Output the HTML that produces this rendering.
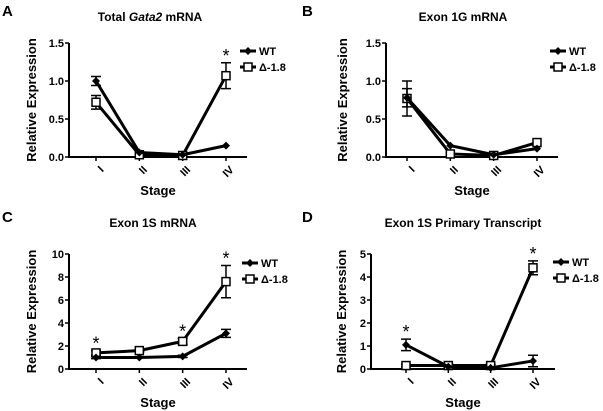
<!DOCTYPE html>
<html><head><meta charset="utf-8"><style>
body{margin:0;background:#fff;}
svg{display:block;font-family:"Liberation Sans",Arial,sans-serif;font-weight:bold;}
text{fill:#000;}
</style></head><body>
<svg id="c" width="603" height="411" viewBox="0 0 603 411"></svg>
<script>
const stages = ["I","II","III","IV"];
const wtA = [1.0,0.06,0.03,0.15], wtAe=[0.06,0,0,0];
const dlA = [0.72,0.03,0.02,1.07], dlAe=[0.09,0,0,0.17];
const wtB = [0.78,0.15,0.03,0.11], wtBe=[0.12,0,0,0];
const dlB = [0.77,0.04,0.02,0.19], dlBe=[0.23,0,0,0];
const wtC = [1.0,1.0,1.1,3.1], wtCe=[0.1,0,0.1,0.35];
const dlC = [1.4,1.6,2.4,7.6], dlCe=[0.2,0.1,0.25,1.4];
const wtD = [1.05,0.1,0.05,0.35], wtDe=[0.25,0,0,0.25];
const dlD = [0.15,0.15,0.15,4.4], dlDe=[0.05,0.05,0.05,0.3];
const yTicksAB = ["0.0","0.5","1.0","1.5"], yValsAB=[0,0.5,1,1.5];
const yTicksC = ["0","2","4","6","8","10"], yValsC=[0,2,4,6,8,10];
const yTicksD = ["0","1","2","3","4","5"], yValsD=[0,1,2,3,4,5];
const starsA=[3], starsB=[], starsC=[0,2,3], starsD=[0,3];

const NS="http://www.w3.org/2000/svg";
const svg=document.getElementById('c');
function mk(tag,attrs,parent,txt){const e=document.createElementNS(NS,tag);for(const k in attrs)e.setAttribute(k,attrs[k]);if(txt!==undefined)e.textContent=txt;(parent||svg).appendChild(e);return e;}

function panel(o){
  const g=mk('g',{});
  
  
  const ymax=o.yVals[o.yVals.length-1];
  const ys=v=>o.y0+(o.y1-o.y0)*v/ymax;
  const xs=i=>o.xs[0]+(o.xs[1]-o.xs[0])*i/3;
  const L=mk('text',{x:o.lx,y:o.ly,'font-size':15,'font-weight':'bold'},g,o.letter);
  
  const T=mk('text',{x:o.tx,y:o.ty,'font-size':12,'text-anchor':'middle'},g);
  
  o.title.forEach(p=>{mk('tspan',{'font-style':p[1]?'italic':'normal'},T,p[0]);});
  const ax=mk('path',{d:`M${o.ax} ${ys(ymax)}V${o.y0}H${o.axEnd}`,stroke:'#000','stroke-width':2,fill:'none'},g);
  
  o.yVals.forEach((v,i)=>{
    mk('line',{x1:o.ax-4,x2:o.ax,y1:ys(v),y2:ys(v),stroke:'#000','stroke-width':1.5},g);
    const t=mk('text',{x:o.ax-5,y:ys(v)+4,'font-size':11,'text-anchor':'end'},g,o.yTicks[i]);
    
  });
  stages.forEach((s,i)=>{
    mk('line',{x1:xs(i),x2:xs(i),y1:o.y0,y2:o.y0+4,stroke:'#000','stroke-width':1.5},g);
    const t=mk('text',{x:xs(i)+3,y:o.y0+8,'font-size':11,'text-anchor':'end',transform:`rotate(-45 ${xs(i)+3} ${o.y0+8})`,dy:'0.7em'},g,s);
    
  });
  const xt=mk('text',{x:(o.ax+o.axEnd)/2,y:o.y0+38,'font-size':13,'text-anchor':'middle'},g,'Stage');
  
  const yt=mk('text',{x:0,y:0,'font-size':13,'text-anchor':'middle',transform:`translate(${o.ylx},${(o.y0+ys(ymax))/2}) rotate(-90)`},g,'Relative Expression');
  
  [[o.dl,o.dle,'sq'],[o.wt,o.wte,'dia']].forEach(([vals,errs,m])=>{
    const pts=vals.map((v,i)=>xs(i)+','+ys(v)).join(' ');
    const pl=mk('polyline',{points:pts,fill:'none',stroke:'#000','stroke-width':3},g);
    
    vals.forEach((v,i)=>{
      const x=xs(i),y=ys(v);
      if(errs[i]>0){
        const e=mk('path',{d:`M${x} ${ys(v+errs[i])}V${ys(Math.max(0,v-errs[i]))}M${x-5} ${ys(v+errs[i])}h10M${x-5} ${ys(Math.max(0,v-errs[i]))}h10`,stroke:'#000','stroke-width':1.5,fill:'none'},g);
        
      }
      let p;
      if(m==='sq')p=mk('rect',{x:x-4,y:y-4,width:8,height:8,fill:'#fff',stroke:'#000','stroke-width':1.5},g);
      else p=mk('path',{d:`M${x} ${y-4}L${x+4} ${y}L${x} ${y+4}L${x-4} ${y}Z`,fill:'#000'},g);
      
    });
  });
  o.stars.forEach(i=>{
    const top=Math.max(o.wt[i]+o.wte[i],o.dl[i]+o.dle[i]);
    const s=mk('text',{x:xs(i),y:ys(top)-1,'font-size':18,'font-weight':'normal','text-anchor':'middle'},g,'*');
    
  });
  const lg=mk('g',{},g);
  mk('line',{x1:o.legx,x2:o.legx+16,y1:o.legy,y2:o.legy,stroke:'#000','stroke-width':3},lg);
  mk('path',{d:`M${o.legx+8} ${o.legy-4}l4 4l-4 4l-4 -4Z`,fill:'#000'},lg);
  mk('text',{x:o.legx+19,y:o.legy+4,'font-size':11},lg,'WT');
  mk('line',{x1:o.legx,x2:o.legx+16,y1:o.legy+16,y2:o.legy+16,stroke:'#000','stroke-width':3},lg);
  mk('rect',{x:o.legx+4,y:o.legy+12,width:8,height:8,fill:'#fff',stroke:'#000','stroke-width':1.5},lg);
  mk('text',{x:o.legx+19,y:o.legy+20,'font-size':11},lg,'Δ-1.8');
}
panel({letter:'A',lx:2,ly:16,title:[['Total '],['Gata2',1],[' mRNA']],tx:150,ty:21,ax:69,axEnd:247,y0:157,y1:43,xs:[96,226],yVals:yValsAB,yTicks:yTicksAB,ylx:36,wt:wtA,wte:wtAe,dl:dlA,dle:dlAe,stars:starsA,legx:240,legy:51});
panel({letter:'B',lx:302,ly:16,title:[['Exon 1G mRNA']],tx:463,ty:21,ax:386,axEnd:558,y0:157,y1:43,xs:[407,537],yVals:yValsAB,yTicks:yTicksAB,ylx:347,wt:wtB,wte:wtBe,dl:dlB,dle:dlBe,stars:starsB,legx:550,legy:51});
panel({letter:'C',lx:2,ly:222,title:[['Exon 1S mRNA']],tx:153,ty:227,ax:69,axEnd:247,y0:369,y1:254,xs:[96,226],yVals:yValsC,yTicks:yTicksC,ylx:36,wt:wtC,wte:wtCe,dl:dlC,dle:dlCe,stars:starsC,legx:242,legy:263});
panel({letter:'D',lx:302,ly:222,title:[['Exon 1S Primary Transcript']],tx:463,ty:227,ax:371,axEnd:555,y0:369,y1:254,xs:[406,533],yVals:yValsD,yTicks:yTicksD,ylx:346,wt:wtD,wte:wtDe,dl:dlD,dle:dlDe,stars:starsD,legx:553,legy:262});
</script>
</body></html>
